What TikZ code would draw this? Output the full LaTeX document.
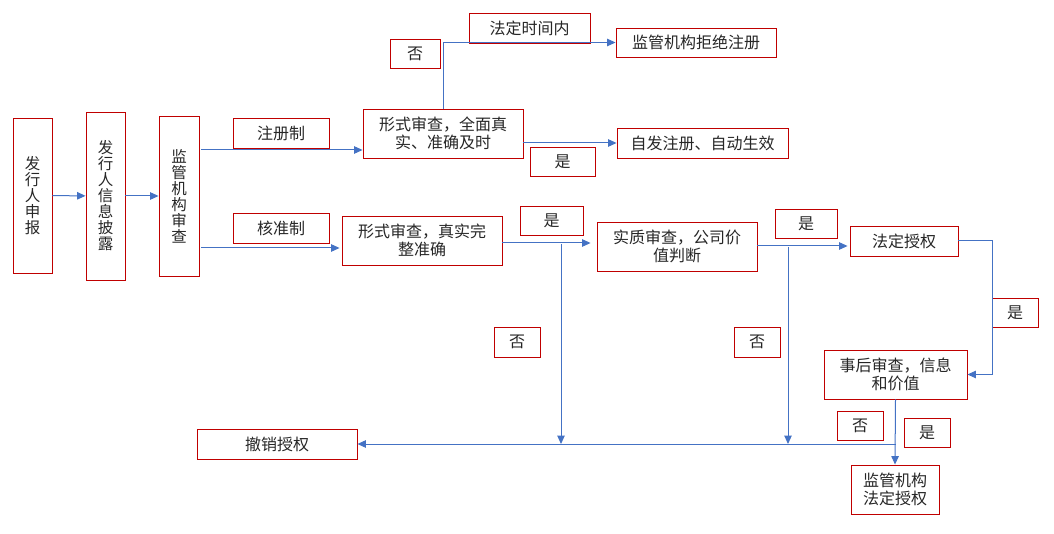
\documentclass[tikz,border=0pt]{standalone}
\usepackage{fontspec}
\setmainfont{Noto Sans CJK SC}
\usetikzlibrary{arrows.meta}
\definecolor{boxred}{HTML}{C00000}
\definecolor{linkblue}{HTML}{4472C4}
\tikzset{
	box/.style={draw=boxred, line width=0.9pt, inner sep=0pt, align=center, text=black!85, font=\fontsize{16}{18.5}\selectfont},
	upbox/.style={box, font=\fontsize{15.5}{16}\selectfont},
	link/.style={draw=linkblue, line width=1pt, -{Triangle[length=8.5pt,width=7.5pt]}},
	wire/.style={draw=linkblue, line width=1pt},
}

\begin{document}
\begin{tikzpicture}[x=1pt, y=-1pt]
			%%%%% START %%%%%
			\useasboundingbox (0,0) rectangle (1054,534);
			
			\node[upbox, minimum width=39, minimum height=155] (fx) at (32.5,195.5) {发\\行\\人\\申\\报};
			\node[upbox, minimum width=39, minimum height=168] (xx) at (105.5,196) {发\\行\\人\\信\\息\\披\\露};
			\node[upbox, minimum width=40, minimum height=160] (jg) at (179,196) {监\\管\\机\\构\\审\\查};
			
			\node[box, minimum width=96, minimum height=30] (zc) at (281,133) {注册制};
			\node[box, minimum width=96, minimum height=30] (hz) at (281,228) {核准制};
			
			\node[box, minimum width=160, minimum height=49] (xs1) at (443,133.5) {形式审查，全面真\\实、准确及时};
			\node[box, minimum width=160, minimum height=49] (xs2) at (422,240.5) {形式审查，真实完\\整准确};
			
			\node[box, minimum width=50, minimum height=29] (no1) at (415,53.5) {否};
			\node[box, minimum width=121, minimum height=30] (fdsj) at (529.5,28) {法定时间内};
			\node[box, minimum width=160, minimum height=29] (jj) at (696,42.5) {监管机构拒绝注册};
			\node[box, minimum width=171, minimum height=30] (zf) at (702.5,143) {自发注册、自动生效};
			\node[box, minimum width=65, minimum height=29] (yes1) at (562.5,161.5) {是};
			
			\node[box, minimum width=63, minimum height=29] (yes2) at (551.5,220.5) {是};
			\node[box, minimum width=160, minimum height=49] (sz) at (677,246.5) {实质审查，公司价\\值判断};
			\node[box, minimum width=46, minimum height=30] (no2) at (517,342) {否};
			
			\node[box, minimum width=62, minimum height=29] (yes3) at (806,223.5) {是};
			\node[box, minimum width=108, minimum height=30] (fd) at (904,241) {法定授权};
			\node[box, minimum width=46, minimum height=30] (no3) at (757,342) {否};
			
			\node[box, minimum width=46, minimum height=29] (yes4) at (1015,312.5) {是};
			\node[box, minimum width=143, minimum height=49] (sh) at (895.5,374.5) {事后审查，信息\\和价值};
			\node[box, minimum width=46, minimum height=29] (no4) at (860,425.5) {否};
			\node[box, minimum width=46, minimum height=29] (yes5) at (927,432.5) {是};
			\node[box, minimum width=88, minimum height=49] (jf) at (895,489.5) {监管机构\\法定授权};
			
			\node[box, minimum width=160, minimum height=30] (cx) at (277,444) {撤销授权};
			
			%%%%% LINKS %%%%%
			\coordinate (j1) at (561,244);
			\coordinate (j2) at (788,247);
			
			\draw[link] (fx) -- (xx);
			\draw[link] (xx) -- (jg);
			\draw[link] ([xshift=2pt]jg.east |- 0,150) -- (xs1.west |- 0,150);
			\draw[link] ([xshift=2pt]jg.east |- 0,248) -- ([xshift=-2pt]xs2.west |- 0,248);
			
			\draw[link] (xs1.north) |- (jj.west);
			\draw[link] (xs1.east |- zf) -- (zf.west);
			
			\draw[link] (xs2.east |- 0,243) -- ([xshift=-6pt]sz.west |- 0,243);
			\draw[link] (j1) -- (j1 |- cx.east);
			\draw[link] (sz.east |- 0,246) -- ([xshift=-2pt]fd.west |- 0,246);
			\draw[link] (j2) -- (j2 |- cx.east);
			
			\draw[link] (fd.east) -- ++(34,0) |- (sh.east);
			\draw[link] (sh.south) -- (jf.north);
			\draw[link] (sh.south |- cx.east) -- (cx.east);
			
			%%%%% END %%%%%
\end{tikzpicture}
\end{document}
